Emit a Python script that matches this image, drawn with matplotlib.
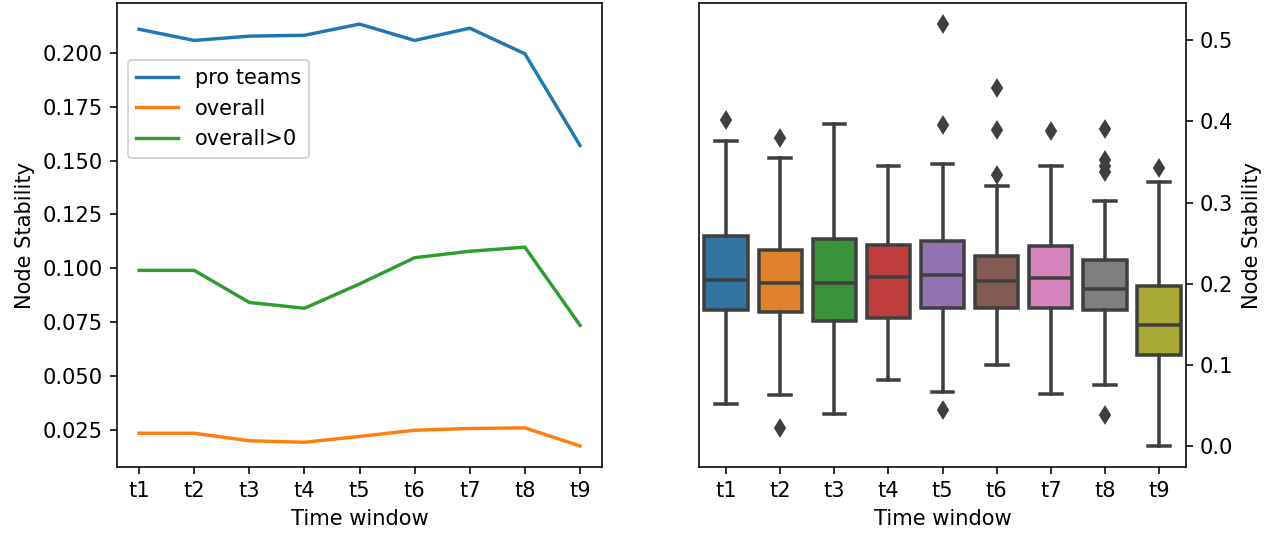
#!/usr/bin/env python3

#=======================================================================
#                        General Documentation

"""Node stability per time window: mean lines (left) and box plots (right).
"""
#---------------- Module General Import and Declarations ---------------
import colorsys
import matplotlib
matplotlib.use("Agg")
import matplotlib.pyplot as plt
import matplotlib.colors as mcolors


windows = ["t1", "t2", "t3", "t4", "t5", "t6", "t7", "t8", "t9"]

# Left panel: mean node stability per window
pro_teams = [0.2111, 0.2059, 0.2079, 0.2083, 0.2135, 0.2059, 0.2116, 0.1997, 0.1571]
overall = [0.0233, 0.0233, 0.0198, 0.0191, 0.0218, 0.0247, 0.0255, 0.0258, 0.0174]
overall_pos = [0.0990, 0.0990, 0.0841, 0.0814, 0.0927, 0.1049, 0.1079, 0.1098, 0.0735]

# Right panel: box plot summaries per window
whis_lo = [0.052, 0.063, 0.039, 0.081, 0.067, 0.100, 0.064, 0.075, 0.000]
q1 = [0.167, 0.165, 0.154, 0.158, 0.170, 0.170, 0.170, 0.168, 0.1125]
median = [0.204, 0.201, 0.201, 0.2085, 0.211, 0.2035, 0.207, 0.193, 0.149]
q3 = [0.259, 0.2415, 0.255, 0.248, 0.2525, 0.2345, 0.2465, 0.229, 0.197]
whis_hi = [0.376, 0.355, 0.397, 0.345, 0.348, 0.320, 0.345, 0.302, 0.325]
outliers = [
    [0.402],
    [0.379, 0.022],
    [],
    [],
    [0.520, 0.396, 0.044],
    [0.441, 0.389, 0.334],
    [0.388],
    [0.391, 0.352, 0.345, 0.338, 0.038],
    [0.343],
]


#-------------------- General Functions: desaturate --------------------
def desaturate(color, prop=0.75):
    """Reduce the saturation of a color like seaborn boxplot does."""
    r, g, b = mcolors.to_rgb(color)
    h, l, s = colorsys.rgb_to_hls(r, g, b)
    return colorsys.hls_to_rgb(h, l, s * prop)


#---------------------- General Functions: main -----------------------
def main():
    plt.rcParams["font.size"] = 10.5
    plt.rcParams["lines.linewidth"] = 1.7

    fig = plt.figure(figsize=(1268 / 144, 536 / 144), dpi=144)
    ax1 = fig.add_axes([0.0923, 0.1287, 0.3825, 0.8657])
    ax2 = fig.add_axes([0.5513, 0.1287, 0.3841, 0.8657])

    # Left: lines
    ax1.plot(windows, pro_teams, label="pro teams")
    ax1.plot(windows, overall, label="overall")
    ax1.plot(windows, overall_pos, label="overall>0")
    ax1.set_xlabel("Time window")
    ax1.set_ylabel("Node Stability")
    ax1.legend(loc="upper left", bbox_to_anchor=(0.0, 0.9))

    # Right: box plots from summary stats
    stats = []
    for i in range(len(windows)):
        stats.append({"whislo": whis_lo[i], "q1": q1[i], "med": median[i],
                      "q3": q3[i], "whishi": whis_hi[i],
                      "fliers": outliers[i], "label": windows[i]})

    gray = "#3f3f3f"
    lw = 1.75
    bp = ax2.bxp(stats, positions=range(len(windows)), widths=0.8,
                 patch_artist=True,
                 boxprops=dict(edgecolor=gray, linewidth=lw),
                 whiskerprops=dict(color=gray, linewidth=lw),
                 capprops=dict(color=gray, linewidth=lw),
                 medianprops=dict(color=gray, linewidth=lw),
                 flierprops=dict(marker="d", markerfacecolor=gray,
                                 markeredgecolor=gray, markersize=5.5))
    colors = plt.rcParams["axes.prop_cycle"].by_key()["color"]
    for i, box in enumerate(bp["boxes"]):
        box.set_facecolor(desaturate(colors[i % len(colors)]))

    ax2.set_xlim(-0.5, len(windows) - 0.5)
    ax2.set_xticks(range(len(windows)))
    ax2.set_xticklabels(windows)
    ax2.set_xlabel("Time window")
    ax2.yaxis.tick_right()
    ax2.yaxis.set_label_position("right")
    ax2.set_ylabel("Node Stability")

    fig.savefig("out.png", dpi=144)
    return 0


if __name__ == "__main__":

    main()
